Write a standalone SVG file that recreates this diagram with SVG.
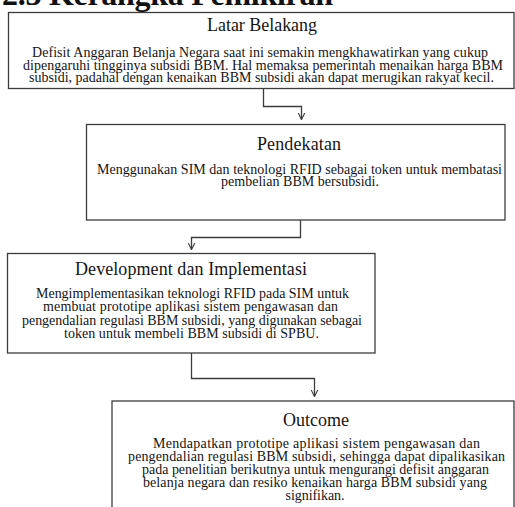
<svg xmlns="http://www.w3.org/2000/svg" width="515" height="507" viewBox="0 0 515 507">
<defs>
<style>
.box{fill:#fff;stroke:#3c3c3c;stroke-width:1.3}
.t{font-family:"Liberation Serif","Times New Roman",serif;font-size:18px;fill:#151515}
.b{font-family:"Liberation Serif","Times New Roman",serif;font-size:14px;fill:#151515}
.m{text-anchor:middle}
.h{font-family:"Liberation Serif","Times New Roman",serif;font-size:32px;font-weight:bold;fill:#111}
.c{fill:none;stroke:#3c3c3c;stroke-width:1.3}
</style>
<marker id="ar" viewBox="0 0 10 10" refX="10" refY="5" markerWidth="7" markerHeight="8" markerUnits="userSpaceOnUse" orient="auto">
<path d="M0,0 L10,5 L0,10" fill="none" stroke="#3c3c3c" stroke-width="1.6"/>
</marker>
</defs>
<rect width="515" height="507" fill="#fff"/>
<text class="h" x="2" y="5" textLength="331">2.3 Kerangka Pemikiran</text>
<g id="latar">
<rect class="box" x="8.5" y="12.5" width="505.5" height="76"/>
<text class="t" x="207" y="31" textLength="110">Latar Belakang</text>
<text class="b" x="32" y="57" textLength="456">Defisit Anggaran Belanja Negara saat ini semakin mengkhawatirkan yang cukup</text>
<text class="b" x="23" y="69.5" textLength="480">dipengaruhi tingginya subsidi BBM. Hal memaksa pemerintah menaikan harga BBM</text>
<text class="b" x="29" y="82" textLength="465">subsidi, padahal dengan kenaikan BBM subsidi akan dapat merugikan rakyat kecil.</text>
</g>
<g id="pendekatan">
<rect class="box" x="86.5" y="124.5" width="418.5" height="95.5"/>
<text class="t" x="257" y="150" textLength="84">Pendekatan</text>
<text class="b" x="97" y="174" textLength="405">Menggunakan SIM dan teknologi RFID sebagai token untuk membatasi</text>
<text class="b m" x="300" y="186" textLength="158">pembelian BBM bersubsidi.</text>
</g>
<g id="development">
<rect class="box" x="7.5" y="253.5" width="367.5" height="99.5"/>
<text class="t" x="75" y="275" textLength="232">Development  dan Implementasi</text>
<text class="b" x="36" y="298" textLength="313">Mengimplementasikan teknologi RFID pada SIM untuk</text>
<text class="b" x="43" y="311.3" textLength="295">membuat prototipe aplikasi sistem pengawasan dan</text>
<text class="b" x="22" y="324.7" textLength="340">pengendalian regulasi BBM subsidi, yang digunakan sebagai</text>
<text class="b" x="64" y="338" textLength="255">token untuk membeli BBM subsidi di SPBU.</text>
</g>
<g id="outcome">
<rect class="box" x="112" y="401" width="402" height="120"/>
<text class="t m" x="316" y="426" textLength="66">Outcome</text>
<text class="b" x="153" y="448" textLength="327">Mendapatkan prototipe aplikasi sistem pengawasan dan</text>
<text class="b" x="128" y="461" textLength="377">pengendalian regulasi BBM subsidi, sehingga dapat dipalikasikan</text>
<text class="b" x="142" y="474" textLength="347">pada penelitian berikutnya untuk mengurangi defisit anggaran</text>
<text class="b" x="143" y="487" textLength="344">belanja negara dan resiko kenaikan harga BBM subsidi yang</text>
<text class="b m" x="315" y="500" textLength="59">signifikan.</text>
</g>
<g id="connectors">
<path class="c" d="M263.5,88.5 V106.5 H301.5 V119.5" marker-end="url(#ar)"/>
<path class="c" d="M300.5,220 V237.5 H191.5 V249.5" marker-end="url(#ar)"/>
<path class="c" d="M191.5,353 V378.5 H314.5 V396.5" marker-end="url(#ar)"/>
</g>
</svg>
